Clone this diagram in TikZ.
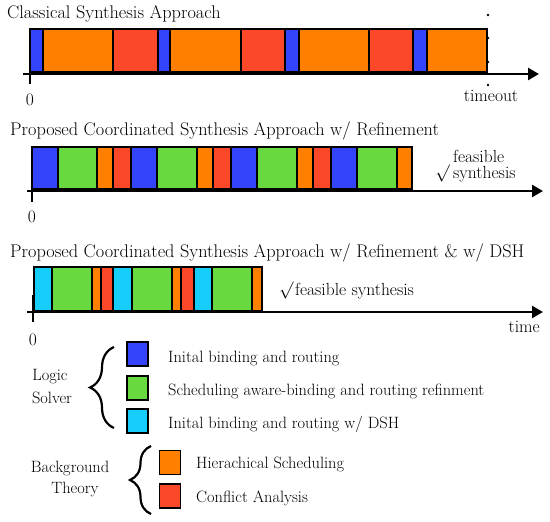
\documentclass[tikz,border=0pt]{standalone}
\usetikzlibrary{arrows.meta,decorations.pathreplacing}
\definecolor{cblue}{RGB}{52,68,250}
\definecolor{corange}{RGB}{255,128,0}
\definecolor{cred}{RGB}{250,72,40}
\definecolor{cgreen}{RGB}{104,218,64}
\definecolor{ccyan}{RGB}{22,204,248}
\begin{document}
\begin{tikzpicture}[x=1pt,y=-1pt,
  bar/.style={draw=black,line width=1.4pt},
  axisline/.style={line width=2.6pt,-{Triangle[length=11pt,width=12pt]}},
  tickline/.style={line width=2.6pt},
  title/.style={inner sep=0pt,anchor=base west,font=\fontsize{18.3}{21}\selectfont},
  txt/.style={inner sep=0pt,font=\fontsize{17.5}{20}\selectfont},
  legtxt/.style={inner sep=0pt,anchor=base west,font=\fontsize{16.4}{19}\selectfont},
  legbox/.style={draw=black,line width=1.1pt,minimum width=21pt,minimum height=24pt,inner sep=0pt},
  bracestyle/.style={decorate,line width=2.2pt},
  dotmark/.style={circle,fill=black,inner sep=0pt,minimum size=2.6pt}]
\useasboundingbox (0,0) rectangle (550,522);

% ---------- Timeline 1 ----------
\node[title] (t1) at (7,18) {Classical Synthesis Approach};
\foreach \a/\b/\c in {30/43/cblue,43/113/corange,113/158/cred,158/170/cblue,170/241/corange,241/285/cred,285/299/cblue,299/369/corange,369/413/cred,413/427/cblue,427/487/corange}
  \draw[bar,fill=\c] (\a,29) rectangle (\b,72);
\coordinate (a1s) at (23,74);
\coordinate (a1e) at (539,74);
\draw[axisline] (a1s) -- (a1e);
\coordinate (k1s) at (30,57);
\coordinate (k1e) at (30,84);
\draw[tickline] (k1s) -- (k1e);
\node[txt,anchor=base] (z1) at (30,105) {0};
\foreach \y/\n in {15/1,38/2,62/3,85/4} \node[dotmark] (d\n) at (488,\y) {};
\node[txt,anchor=base] (timeout) at (491,101) {timeout};

% ---------- Timeline 2 ----------
\node[title] (t2) at (10,135) {Proposed Coordinated Synthesis Approach w/ Refinement};
\foreach \a/\b/\c in {32/58/cblue,58/97/cgreen,97/113/corange,113/131/cred,131/157/cblue,157/197/cgreen,197/213/corange,213/231/cred,231/257/cblue,257/297/cgreen,297/313/corange,313/331/cred,331/357/cblue,357/397/cgreen,397/412/corange}
  \draw[bar,fill=\c] (\a,147) rectangle (\b,189);
\coordinate (a2s) at (27,191);
\coordinate (a2e) at (543,191);
\draw[axisline] (a2s) -- (a2e);
\coordinate (k2s) at (32,173);
\coordinate (k2e) at (32,202);
\draw[tickline] (k2s) -- (k2e);
\node[txt,anchor=base] (z2) at (32,222) {0};
\node[txt,anchor=base west] (fe2) at (453,162) {feasible};
\node[txt,anchor=base west] (sy2) at (453,178) {synthesis};
\node[txt,anchor=base east] (ck2) at (450,178) {$\surd$};

% ---------- Timeline 3 ----------
\node[txt,anchor=base west] (ck3) at (279,295) {$\surd$};
\node[txt,anchor=base west] (fs3) at (295,295) {feasible synthesis};
\node[txt,anchor=base east] (time) at (540,332) {time};
\node[title] (t3) at (10,257) {Proposed Coordinated Synthesis Approach w/ Refinement \& w/ DSH};
\foreach \a/\b/\c in {34/52/ccyan,52/92/cgreen,92/101/corange,101/113/cred,113/132/ccyan,132/172/cgreen,172/181/corange,181/194/cred,194/212/ccyan,212/252/cgreen,252/262/corange}
  \draw[bar,fill=\c] (\a,267) rectangle (\b,311);
\coordinate (a3s) at (27,312);
\coordinate (a3e) at (543,312);
\draw[axisline] (a3s) -- (a3e);
\coordinate (k3s) at (33,295);
\coordinate (k3e) at (33,322);
\draw[tickline] (k3s) -- (k3e);
\node[txt,anchor=base] (z3) at (33,345) {0};

% ---------- Legend ----------
\node[legbox,fill=cblue] (lb1) at (137.5,354) {};
\node[legbox,fill=cgreen] (lb2) at (137.5,388) {};
\node[legbox,fill=ccyan] (lb3) at (137.5,421) {};
\node[legtxt] (lt1) at (168,362) {Inital binding and routing};
\node[legtxt] (lt2) at (168,395) {Scheduling aware-binding and routing refinment};
\node[legtxt] (lt3) at (168,428) {Inital binding and routing w/ DSH};
\node[legtxt,anchor=base] (ls1) at (50,380) {Logic};
\node[legtxt,anchor=base] (ls2) at (52,403) {Solver};
\coordinate (b1s) at (114,428);
\coordinate (b1e) at (114,347);
\draw[bracestyle,decoration={brace,amplitude=24pt}] (b1s) -- (b1e);

\node[legbox,fill=corange] (lb4) at (170,462.5) {};
\node[legbox,fill=cred] (lb5) at (170,496) {};
\node[legtxt] (lt4) at (196,468) {Hierachical Scheduling};
\node[legtxt] (lt5) at (196,502) {Conflict Analysis};
\node[legtxt,anchor=base] (bt1) at (70,472) {Background};
\node[legtxt,anchor=base] (bt2) at (75,493) {Theory};
\coordinate (b2s) at (151,514);
\coordinate (b2e) at (151,446);
\draw[bracestyle,decoration={brace,amplitude=21pt}] (b2s) -- (b2e);
\end{tikzpicture}
\end{document}
